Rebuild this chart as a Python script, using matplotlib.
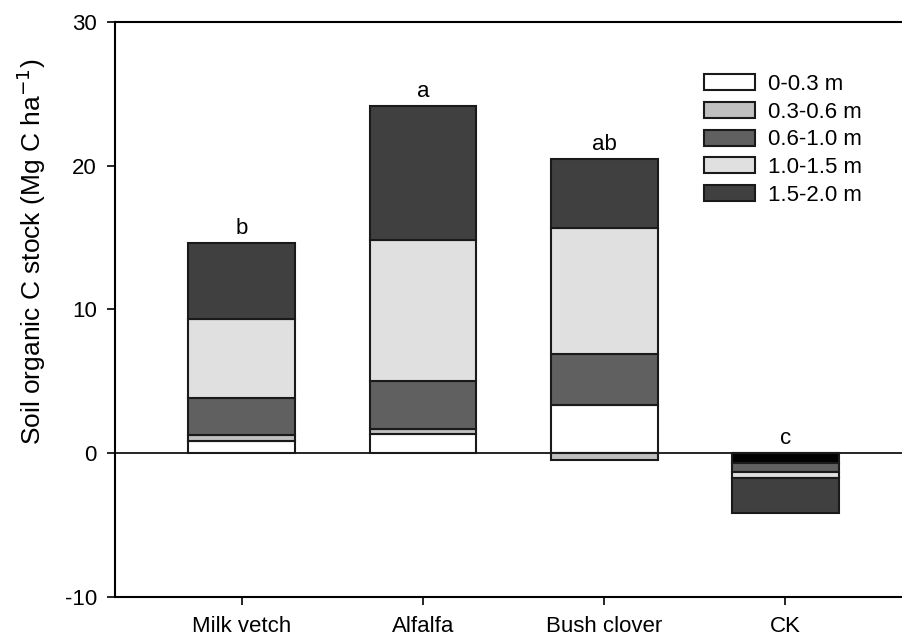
import matplotlib
matplotlib.use("Agg")
import matplotlib.pyplot as plt
import numpy as np

plt.rcParams['font.family'] = ['Liberation Sans', 'DejaVu Sans']
plt.rcParams['axes.unicode_minus'] = False

crops = ["Milk vetch", "Alfalfa", "Bush clover", "CK"]
layers = ["0-0.3 m", "0.3-0.6 m", "0.6-1.0 m", "1.0-1.5 m", "1.5-2.0 m"]
# SOC stock change per layer (Mg C/ha), rows = layers, cols = crops
d_00_03 = [0.84, 1.32, 3.35, -0.67]
d_03_06 = [0.43, 0.37, -0.50, 0.0]
d_06_10 = [2.56, 3.31, 3.55, -0.65]
d_10_15 = [5.50, 9.80, 8.80, -0.40]
d_15_20 = [5.27, 9.35, 4.75, -2.43]
letters = ["b", "a", "ab", "c"]

colors = ["#ffffff", "#c0c0c0", "#606060", "#e0e0e0", "#404040"]

vals = np.array([d_00_03, d_03_06, d_06_10, d_10_15, d_15_20])
x = np.arange(len(crops))

fig = plt.figure(figsize=(9.03, 6.38), dpi=100)
ax = fig.add_axes([0.1274, 0.0643, 0.8726, 0.9012])

pos = np.zeros(len(crops))
neg = np.zeros(len(crops))
for i, lab in enumerate(layers):
    v = vals[i]
    bottom = np.where(v >= 0, pos, neg)
    fc = [colors[i]] * len(crops)
    if i == 0:
        fc[3] = "black"  # CK top layer drawn black in original
    ax.bar(x, v, width=0.59, bottom=bottom, color=fc, edgecolor="#1a1a1a",
           linewidth=1.5, label=lab, zorder=2)
    pos = pos + np.where(v > 0, v, 0)
    neg = neg + np.where(v < 0, v, 0)

ax.axhline(0, color="black", lw=1.2, zorder=1)

for xi, top, t in zip(x, pos, letters):
    ax.annotate(t, (xi, top), xytext=(0, 3), textcoords="offset points",
                ha="center", va="bottom", fontsize=16)

ax.set_xlim(-0.7, 3.65)
ax.set_ylim(-10, 30)
ax.set_yticks([-10, 0, 10, 20, 30])
ax.set_xticks(x)
ax.set_xticklabels(crops)
ax.tick_params(direction="out", labelsize=16, width=1.2, length=6)
ax.tick_params(axis="x", pad=8)
ax.tick_params(axis="y", pad=7)
ax.spines["right"].set_visible(False)
for s in ["left", "bottom", "top"]:
    ax.spines[s].set_linewidth(1.5)
ax.set_ylabel("Soil organic C stock (Mg C ha$^{-1}$)", fontsize=19)
ax.yaxis.set_label_coords(-0.085, 0.6)

ax.legend(loc="upper left", bbox_to_anchor=(0.736, 0.925), frameon=False,
          fontsize=16, handlelength=2.3, handleheight=0.72,
          labelspacing=0.3, handletextpad=0.6, borderaxespad=0)

fig.savefig("out.png", dpi=100)
